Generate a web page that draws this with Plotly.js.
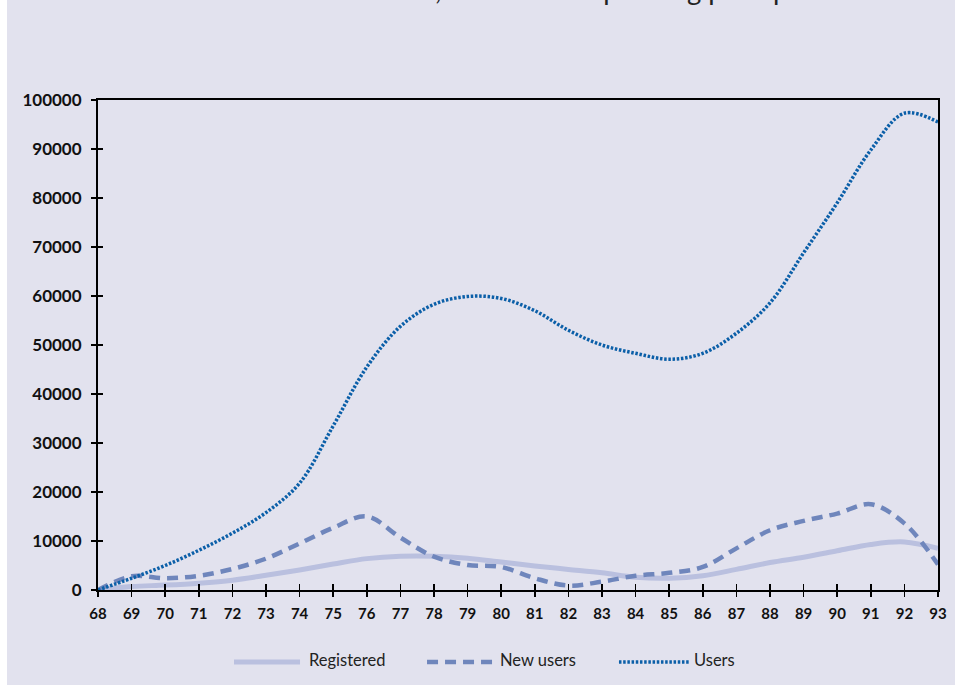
<!DOCTYPE html>
<html>
<head>
<meta charset="utf-8">
<script src="https://cdn.plot.ly/plotly-3.0.1.min.js"></script>
<style>
  html, body { margin: 0; padding: 0; background: #ffffff; }
  #chart { position: absolute; left: 7px; top: 0; width: 948px; height: 685px; }
</style>
</head>
<body>
<div id="chart"></div>
<script>
// ---- data ----
const years = [68,69,70,71,72,73,74,75,76,77,78,79,80,81,82,83,84,85,86,87,88,89,90,91,92,93];
const yearLabels = ["68","69","70","71","72","73","74","75","76","77","78","79","80","81","82","83","84","85","86","87","88","89","90","91","92","93"];
const registered = [0,700,1000,1400,2000,3000,4100,5300,6400,6900,6900,6500,5700,4900,4200,3500,2600,2400,2900,4200,5600,6700,8000,9300,9800,8500];
const newUsers = [0,2800,2400,2900,4300,6400,9500,12700,15000,10700,6800,5100,4700,2400,900,1700,2900,3500,4700,8500,12200,14100,15600,17500,13600,5200];
const users = [0,2400,5000,8100,11600,15800,21800,33500,45500,53800,58300,59900,59500,57000,53000,50000,48300,47100,48300,52400,58600,68800,79000,89800,97300,95500];
const yTicks = [0,10000,20000,30000,40000,50000,60000,70000,80000,90000,100000];
const seriesNames = ["Registered", "New users", "Users"];
const headerText = "incidence between 1968 and 1991, with a corresponding peak prevalence in 1992";

const bg = "#E2E2EE";
const cReg = "#BAC0DF";
const cNew = "#6F86BC";
const cUsers = "#0B5FA8";

const traces = [
  { x: years, y: registered, name: seriesNames[0], mode: "lines",
    line: { color: cReg, width: 5, shape: "spline", smoothing: 1 }, showlegend: false },
  { x: years, y: newUsers, name: seriesNames[1], mode: "lines",
    line: { color: cNew, width: 4.5, shape: "spline", smoothing: 1, dash: "11px,7px" }, showlegend: false },
  { x: years, y: users, name: seriesNames[2], mode: "lines",
    line: { color: cUsers, width: 3.5, shape: "spline", smoothing: 1, dash: "2.5px,1.7px" }, showlegend: false },
  { x: [], y: [], xaxis: "x2", yaxis: "y2", showlegend: false, hoverinfo: "skip" }
];

const tickFontX = { family: "Lato, 'DejaVu Sans', sans-serif", size: 15, color: "#111", weight: "bold" };
const tickFontY = { family: "Lato, 'DejaVu Sans', sans-serif", size: 17, color: "#111", weight: "bold" };
const legFont = { family: "Lato, 'Open Sans', sans-serif", size: 16.5, color: "#222" };

// legend built with paper-coordinate shapes/annotations
const legendItems = [
  { x0: 0.1619, x1: 0.2405, tx: 0.249, color: cReg, width: 5, dash: "solid" },
  { x0: 0.3917, x1: 0.4750, tx: 0.476, color: cNew, width: 4.5, dash: "11px,7px" },
  { x0: 0.6202, x1: 0.7036, tx: 0.707, color: cUsers, width: 3.5, dash: "2.5px,1.7px" }
];
const legY = -0.1469;
const shapes = legendItems.map(it => ({
  type: "line", xref: "paper", yref: "paper", x0: it.x0, x1: it.x1, y0: legY, y1: legY,
  line: { color: it.color, width: it.width, dash: it.dash }
}));
const annotations = legendItems.map((it, i) => ({
  xref: "paper", yref: "paper", x: it.tx, y: legY + 0.004, xanchor: "left", yanchor: "middle",
  text: seriesNames[i], showarrow: false, font: legFont
}));
annotations.push({
  xref: "paper", yref: "paper", x: -0.1012, y: 1.1876, xanchor: "left", yanchor: "bottom",
  text: headerText, showarrow: false,
  font: { family: "Lato, 'Open Sans', sans-serif", size: 27.5, color: "#222" }
});

const layout = {
  width: 948, height: 685,
  margin: { l: 91, r: 17, t: 100, b: 95 },
  paper_bgcolor: bg, plot_bgcolor: bg,
  showlegend: false,
  xaxis: {
    range: [68, 93], tickmode: "array", tickvals: years, ticktext: yearLabels,
    ticks: "outside", ticklen: 5, tickwidth: 1.5, tickcolor: "#000",
    showline: true, linecolor: "#000", linewidth: 2, mirror: true,
    showgrid: false, zeroline: false, tickfont: tickFontX, ticklabelstandoff: 4
  },
  yaxis: {
    range: [0, 100000], tickmode: "array", tickvals: yTicks, tickformat: "d",
    ticks: "outside", ticklen: 5, tickwidth: 1.5, tickcolor: "#000",
    showline: true, linecolor: "#000", linewidth: 2, mirror: true,
    showgrid: false, zeroline: false, tickfont: tickFontY, ticklabelstandoff: 6
  },
  xaxis2: {
    overlaying: "x", anchor: "y2", range: [68, 93], tickmode: "array", tickvals: years,
    ticks: "inside", ticklen: 6, tickwidth: 1.5, tickcolor: "#000",
    showticklabels: false, showline: false, showgrid: false, zeroline: false
  },
  yaxis2: {
    overlaying: "y", anchor: "x2", range: [0, 100000], tickmode: "array", tickvals: yTicks,
    ticks: "inside", ticklen: 5, tickwidth: 1.5, tickcolor: "#000",
    showticklabels: false, showline: false, showgrid: false, zeroline: false
  },
  shapes: shapes,
  annotations: annotations
};

Plotly.newPlot("chart", traces, layout, { displayModeBar: false, staticPlot: true });
</script>
</body>
</html>
